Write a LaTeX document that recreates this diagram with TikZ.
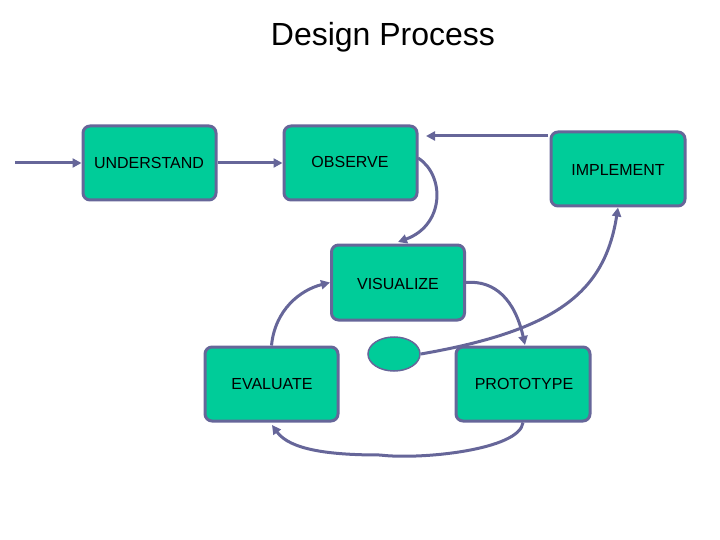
\documentclass[tikz,border=0pt]{standalone}
\usepackage{fontspec}
\setmainfont{Liberation Sans}
\usetikzlibrary{arrows.meta,shapes.geometric}
\definecolor{boxg}{RGB}{0,204,153}
\definecolor{edge}{RGB}{102,102,153}
\begin{document}
\begin{tikzpicture}[x=1pt,y=-1pt,
  box/.style={draw=edge,line width=3pt,fill=boxg,rounded corners=7pt,minimum width=#1,inner sep=0pt},
  box/.default=133pt,
  lbl/.style={font=\fontsize{16}{18}\selectfont,inner sep=0pt},
  arr/.style={draw=edge,line width=3pt,-{Triangle[length=9pt,width=9pt]}}]
\useasboundingbox (0,0) rectangle (720,540);
\node[font=\fontsize{32}{36}\selectfont] (title) at (383,37) {Design Process};
\node[box,minimum height=74pt] (u) at (149.5,163) {};
\node[box,minimum height=74pt] (o) at (350.5,163) {};
\node[box,minimum height=74pt,minimum width=134pt] (i) at (618,169) {};
\node[box,minimum height=75pt] (v) at (398,282.5) {};
\node[box,minimum height=74pt] (e) at (271.5,384) {};
\node[box,minimum height=74pt,minimum width=134pt] (p) at (523,384) {};
\node[lbl] at (149,163) {UNDERSTAND};
\node[lbl] at (350,162) {OBSERVE};
\node[lbl] at (618,170) {IMPLEMENT};
\node[lbl] at (398,284) {VISUALIZE};
\node[lbl] at (272,384) {EVALUATE};
\node[lbl] at (524,384) {PROTOTYPE};
\node[ellipse,draw=edge,line width=1.5pt,fill=boxg,minimum width=52pt,minimum height=34pt,inner sep=0pt] (el) at (394,354) {};
\coordinate (s) at (15,163);
\coordinate (t) at (548,136);
\draw[arr] (s) -- (u.west);
\draw[arr] (u.east) -- (o.west);
\draw[arr] (t) -- (426,136);
\draw[arr] (418,158) .. controls (445,175) and (445,225) .. (398,242);
\draw[arr] (v.east) .. controls (495,280) and (515,300) .. (525,345);
\draw[arr] (e.north) .. controls (275,310) and (300,290) .. (v.west);
\draw[arr] (p.south) .. controls (520,450) and (420,460) .. (380,455) .. controls (330,455) and (290,450) .. (272,425);
\draw[arr] (el.east) .. controls (560,330) and (605,290) .. (i.south);
\end{tikzpicture}
\end{document}
